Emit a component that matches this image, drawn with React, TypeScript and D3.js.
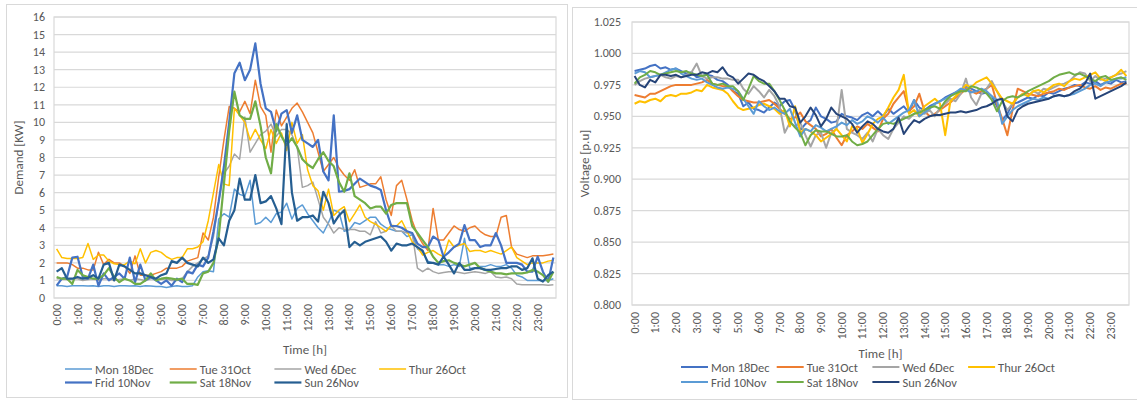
import React from 'react';
import * as d3 from 'd3';

// tick labels, one per hour (data are 15 min steps, 96 per day)
const hourLabels = [
  '0:00', '1:00', '2:00', '3:00', '4:00', '5:00', '6:00', '7:00', '8:00', '9:00', '10:00', '11:00',
  '12:00', '13:00', '14:00', '15:00', '16:00', '17:00', '18:00', '19:00', '20:00', '21:00', '22:00', '23:00',
];
const dayNames = ['Mon 18Dec', 'Tue 31Oct', 'Wed 6Dec', 'Thur 26Oct', 'Frid 10Nov', 'Sat 18Nov', 'Sun 26Nov'];

// demand [kW]
const monDemand = [0.7,0.7,0.65,0.7, 0.7,0.7,0.68,0.7, 0.65,0.7,0.7,0.65, 0.7,0.7,0.68,0.7, 0.65,0.7,0.68,0.65, 0.65,0.6,0.65,0.7, 0.65,0.65,0.7,1.2, 1.5,1.55,1.5,4.5, 4.8,4.6,6.2,5.9, 5.8,6.7,4.2,4.3, 4.6,4.3,4.8,4.9, 5.4,4.5,5.1,5.3, 4.8,4.4,4.0,3.7, 4.3,5.0,4.9,3.8, 3.9,4.3,4.2,4.4, 4.6,4.6,4.2,4.0, 3.9,3.8,3.8,3.5, 3.6,2.8,2.6,2.1, 2.0,1.9,1.9,1.8, 1.9,1.8,3.4,1.7, 1.7,1.8,1.8,1.9, 1.8,1.8,1.9,1.7, 1.3,1.2,1.0,1.0, 1.0,1.0,1.0,1.1];
const tueDemand = [2.0,2.0,2.0,1.9, 1.7,1.7,1.6,1.6, 2.6,1.9,2.2,2.0, 2.0,1.8,1.4,2.4, 1.3,1.3,1.3,1.4, 1.5,1.7,1.7,1.7, 1.8,2.1,2.2,2.3, 3.7,3.3,4.6,6.9, 9.0,10.9,10.8,10.6, 11.2,10.5,12.4,10.9, 10.4,8.3,10.7,9.8, 10.3,10.8,11.1,10.6, 10.0,9.4,8.3,7.2, 7.6,8.0,7.4,7.0, 6.7,7.3,6.3,6.4, 6.5,6.5,6.9,5.6, 4.7,6.4,6.7,5.6, 4.4,3.6,3.1,2.7, 5.1,3.3,3.3,3.7, 4.1,3.9,3.8,4.0, 4.1,3.8,3.6,3.5, 3.5,4.6,4.7,2.9, 2.5,2.4,2.3,2.4, 2.4,2.4,2.45,2.5];
const wedDemand = [1.1,1.1,1.05,1.1, 1.1,1.0,1.05,1.1, 1.0,1.1,1.1,1.0, 1.05,1.1,1.0,1.1, 1.05,1.0,1.1,1.1, 1.05,1.1,1.0,1.0, 1.1,1.5,1.8,2.0, 2.2,2.4,3.5,5.5, 7.1,7.5,8.2,7.9, 10.3,8.3,8.8,9.3, 9.5,9.9,9.2,9.6, 9.6,9.3,8.6,6.3, 6.4,6.6,5.6,4.6, 4.2,3.7,4.0,3.9, 3.9,3.9,3.8,3.8, 3.6,4.35,3.7,3.8, 4.1,3.8,3.8,3.7, 3.7,1.7,1.5,1.7, 1.5,1.4,1.45,1.5, 1.5,1.45,1.4,1.45, 1.5,1.45,1.4,1.5, 1.2,1.15,1.2,1.1, 0.8,0.75,0.75,0.75, 0.75,0.75,0.72,0.75];
const thuDemand = [2.8,2.3,2.25,2.25, 2.25,2.3,3.1,2.2, 2.45,2.45,2.1,1.95, 1.9,1.9,2.1,1.95, 2.8,2.0,2.6,2.7, 2.6,2.35,2.2,2.3, 2.3,2.8,2.8,2.9, 3.2,4.4,6.0,7.6, 6.5,6.4,10.8,10.4, 10.0,9.0,9.6,9.0, 8.5,9.6,8.8,9.4, 8.4,10.0,8.8,9.3, 7.3,6.4,6.1,5.0, 6.2,4.7,5.0,5.2, 4.35,4.8,5.3,4.6, 4.35,4.2,4.0,3.8, 4.15,4.1,4.4,3.8, 3.2,2.9,2.45,2.6, 2.7,2.5,2.35,3.3, 2.9,3.0,3.1,2.65, 2.7,2.7,2.6,2.7, 2.6,2.5,2.7,2.9, 2.3,2.1,1.9,2.0, 2.0,2.0,2.1,2.15];
const friDemand = [0.7,1.1,1.2,2.3, 2.35,1.2,1.1,1.9, 0.7,1.4,1.0,1.2, 1.4,1.1,2.3,0.9, 1.9,1.0,1.2,1.0, 0.8,1.0,0.7,1.1, 0.9,1.5,1.4,1.9, 1.8,2.3,3.8,5.5, 7.5,10.0,12.8,13.4, 12.4,13.0,14.5,12.2, 10.8,10.6,9.5,10.5, 10.7,9.4,10.4,9.0, 8.8,8.6,9.0,7.2, 6.7,10.4,6.05,6.1, 6.2,6.5,6.8,6.6, 6.4,6.3,6.15,5.0, 4.1,4.1,4.0,3.8, 3.7,3.1,2.9,2.9, 3.5,3.3,2.35,2.6, 2.9,3.1,4.15,3.3, 3.3,2.9,3.0,3.0, 3.7,3.0,2.0,2.0, 2.0,1.9,1.5,1.5, 2.35,1.5,0.93,2.3];
const satDemand = [1.2,1.1,1.1,0.8, 1.6,1.3,1.2,1.1, 1.1,1.3,1.7,1.2, 0.9,1.1,1.0,0.8, 0.8,1.0,1.4,1.0, 1.1,1.15,1.1,1.05, 1.1,0.8,0.8,0.75, 1.4,1.5,2.0,3.5, 6.5,9.5,11.75,10.4, 10.2,10.2,11.2,9.8, 8.0,7.1,9.9,9.2, 8.7,9.1,8.6,7.9, 7.6,7.4,7.9,8.3, 7.8,7.5,6.6,6.05, 7.1,5.8,5.6,5.4, 5.1,5.2,5.2,4.8, 5.3,5.4,5.4,5.4, 4.1,3.7,3.3,2.9, 2.35,2.0,2.1,2.15, 2.0,1.9,1.8,1.9, 2.0,1.7,1.6,1.5, 1.4,1.4,1.35,1.4, 1.4,1.4,1.45,1.6, 1.5,1.3,0.93,1.5];
const sunDemand = [1.5,1.7,1.1,1.1, 1.2,1.1,1.15,1.3, 1.1,1.9,2.0,1.0, 1.9,1.8,1.6,1.4, 1.4,1.3,1.2,1.1, 1.3,1.4,2.1,2.0, 2.3,2.0,1.9,1.8, 2.3,2.0,2.2,3.4, 3.0,4.4,5.0,6.8, 5.6,5.6,7.0,5.4, 5.5,5.8,5.1,4.2, 9.9,6.0,4.4,4.6, 4.6,4.7,4.35,6.05, 5.4,4.25,4.7,5.0, 2.9,3.2,3.0,3.2, 3.3,3.4,3.5,3.2, 2.7,3.1,3.0,3.0, 3.1,2.9,2.7,2.0, 2.0,1.9,2.35,1.9, 1.4,2.0,1.6,1.6, 1.7,1.7,1.6,1.6, 1.65,1.7,1.7,1.8, 1.8,1.6,1.7,2.26, 1.1,0.93,1.3,1.5];

// voltage [p.u]
const monVoltage = [.986,.987,.988,.990, .991,.988,.989,.987, .988,.986,.984,.985, .981,.982,.983,.982, .979,.978,.975,.970, .968,.958,.961,.956, .955,.953,.957,.961, .958,.962,.963,.955, .939,.944,.947,.957, .950,.948,.945,.946, .952,.950,.949,.947, .951,.953,.950,.954, .950,.956,.952,.955, .958,.953,.963,.957, .955,.958,.960,.962, .965,.967,.969,.971, .974,.972,.970,.968, .969,.966,.958,.947, .952,.960,.961,.963, .965,.964,.967,.966, .969,.968,.970,.972, .973,.975,.974,.977, .976,.978,.975,.977, .976,.979,.977,.978];
const tueVoltage = [.967,.966,.965,.968, .968,.970,.972,.974, .975,.975,.975,.975, .976,.977,.979,.976, .975,.974,.974,.970, .966,.963,.962,.961, .961,.962,.963,.960, .956,.952,.948,.949, .953,.946,.943,.940, .934,.936,.940,.933, .927,.935,.938,.942, .940,.944,.941,.938, .948,.952,.960,.965, .970,.954,.958,.968, .954,.950,.952,.955, .958,.961,.965,.968, .972,.970,.968,.970, .972,.975,.960,.948, .935,.955,.972,.970, .968,.967,.966,.968, .969,.970,.972,.971, .973,.974,.975,.973, .972,.974,.971,.973, .972,.974,.976,.976];
const wedVoltage = [.975,.978,.980,.981, .982,.983,.981,.980, .982,.981,.983,.985, .992,.982,.980,.981, .981,.980,.980,.979, .979,.972,.968,.974, .970,.965,.971,.966, .958,.937,.945,.942, .945,.935,.926,.935, .937,.925,.937,.940, .971,.940,.937,.935, .932,.937,.930,.940, .935,.932,.940,.945, .950,.948,.952,.955, .952,.955,.950,.957, .960,.964,.962,.968, .980,.965,.959,.968, .972,.978,.970,.962, .955,.960,.965,.968, .966,.970,.968,.972, .971,.973,.975,.976, .978,.982,.985,.984, .978,.982,.979,.980, .981,.983,.984,.986];
const thuVoltage = [.960,.962,.961,.963, .964,.962,.966,.967, .966,.968,.968,.969, .971,.970,.975,.973, .972,.971,.968,.962, .957,.955,.956,.957, .959,.960,.958,.956, .952,.955,.942,.958, .937,.940,.938,.935, .930,.933,.936,.940, .935,.930,.942,.940, .929,.936,.944,.948, .950,.957,.965,.971, .983,.952,.955,.950, .958,.961,.964,.960, .935,.962,.966,.970, .975,.973,.977,.979, .981,.976,.970,.964, .962,.960,.965,.968, .966,.970,.971,.969, .972,.975,.976,.974, .978,.980,.979,.981, .983,.985,.980,.978, .981,.983,.987,.982];
const friVoltage = [.984,.986,.985,.981, .982,.983,.985,.987, .988,.984,.982,.980, .979,.980,.977,.975, .973,.972,.973,.972, .970,.964,.958,.952, .962,.958,.955,.957, .954,.952,.956,.945, .934,.940,.938,.943, .941,.938,.940,.942, .945,.943,.947,.944, .946,.950,.948,.945, .949,.944,.947,.950, .953,.955,.963,.950, .953,.956,.960,.962, .964,.966,.969,.972, .971,.969,.970,.972, .970,.966,.963,.944, .950,.955,.958,.960, .962,.964,.963,.965, .964,.966,.967,.966, .967,.968,.970,.972, .975,.976,.974,.977, .978,.980,.980,.981];
const satVoltage = [.976,.981,.983,.986, .985,.983,.984,.985, .986,.985,.986,.984, .983,.982,.983,.976, .975,.976,.974,.974, .970,.963,.972,.982, .978,.976,.976,.970, .963,.955,.946,.941, .937,.927,.935,.939, .938,.938,.936,.934, .934,.935,.930,.927, .928,.930,.935,.940, .944,.945,.944,.946, .948,.950,.952,.953, .955,.957,.958,.956, .962,.966,.968,.970, .970,.974,.973,.971, .968,.963,.954,.962, .965,.966,.965,.967, .970,.972,.974,.976, .978,.981,.983,.984, .985,.983,.984,.982, .980,.978,.981,.982, .979,.980,.981,.979];
const sunVoltage = [.982,.975,.973,.979, .977,.983,.983,.982, .983,.981,.982,.983, .983,.985,.984,.986, .985,.989,.983,.981, .976,.980,.984,.983, .980,.978,.974,.970, .964,.964,.958,.957, .945,.950,.957,.951, .942,.948,.957,.952, .950,.948,.944,.937, .942,.946,.944,.940, .938,.937,.940,.949, .936,.942,.947,.945, .948,.950,.951,.951, .952,.953,.953,.954, .953,.954,.955,.957, .958,.960,.963,.964, .950,.946,.955,.958, .960,.961,.962,.963, .964,.966,.967,.966, .967,.970,.972,.976, .984,.964,.966,.968, .970,.972,.974,.977];

const demandTicks = [0, 1, 2, 3, 4, 5, 6, 7, 8, 9, 10, 11, 12, 13, 14, 15, 16];
const voltageTicks = [0.8, 0.825, 0.85, 0.875, 0.9, 0.925, 0.95, 0.975, 1.0, 1.025];

const demandColors = ['#5B9BD5', '#ED7D31', '#A5A5A5', '#FFC000', '#4472C4', '#70AD47', '#255E91'];
const voltageColors = ['#4472C4', '#ED7D31', '#A5A5A5', '#FFC000', '#5B9BD5', '#70AD47', '#264478'];

const FONT = 'Carlito, Lato, sans-serif';
const TEXT = '#595959';
const GRID = '#d9d9d9';

type Box = { x0: number; x1: number; y0: number; y1: number };

type ChartProps = {
  outer: Box;
  plot: Box;
  series: number[][];
  colors: string[];
  widths: number[];
  yDomain: [number, number];
  yTicks: number[];
  yFormat: (v: number) => string;
  yTitle: string;
  yTitleX: number;
  yLabelX: number;
  xLabelTop: number;
  xTitleY: number;
  legendX: number;
  legendStep: number;
  legendRows: [number, number];
};

function LineChart(p: ChartProps) {
  const n = p.series[0].length;
  const x = d3.scalePoint<number>().domain(d3.range(n)).range([p.plot.x0, p.plot.x1]).padding(0.5);
  const y = d3.scaleLinear().domain(p.yDomain).range([p.plot.y1, p.plot.y0]);
  const line = d3
    .line<number>()
    .x((_, i) => x(i) as number)
    .y((d) => y(d));
  const midX = (p.plot.x0 + p.plot.x1) / 2;
  const midY = (p.plot.y0 + p.plot.y1) / 2;

  return (
    <g fontFamily={FONT}>
      <rect
        x={p.outer.x0}
        y={p.outer.y0}
        width={p.outer.x1 - p.outer.x0}
        height={p.outer.y1 - p.outer.y0}
        fill="#fff"
        stroke={GRID}
      />
      {p.yTicks.map((t) => (
        <g key={t}>
          <line x1={p.plot.x0} x2={p.plot.x1} y1={y(t)} y2={y(t)} stroke={GRID} strokeWidth={1.2} />
          <text x={p.yLabelX} y={y(t)} textAnchor="end" dominantBaseline="central" fontSize={12} fill={TEXT}>
            {p.yFormat(t)}
          </text>
        </g>
      ))}
      <rect
        x={p.plot.x0}
        y={p.plot.y0}
        width={p.plot.x1 - p.plot.x0}
        height={p.plot.y1 - p.plot.y0}
        fill="none"
        stroke={GRID}
        strokeWidth={1.2}
      />
      {hourLabels.map((h, i) => (
        <text
          key={h}
          transform={`translate(${x(i * 4)},${p.xLabelTop}) rotate(-90)`}
          textAnchor="end"
          dominantBaseline="central"
          fontSize={12}
          fill={TEXT}
        >
          {h}
        </text>
      ))}
      {p.series.map((s, k) => (
        <path
          key={k}
          d={line(s) ?? ''}
          fill="none"
          stroke={p.colors[k]}
          strokeWidth={p.widths[k]}
          strokeLinejoin="round"
        />
      ))}
      <text
        transform={`translate(${p.yTitleX},${midY}) rotate(-90)`}
        textAnchor="middle"
        dominantBaseline="central"
        fontSize={13}
        fill={TEXT}
      >
        {p.yTitle}
      </text>
      <text x={midX} y={p.xTitleY} textAnchor="middle" dominantBaseline="central" fontSize={13} fill={TEXT}>
        Time [h]
      </text>
      {dayNames.map((name, k) => {
        const col = k % 4;
        const row = Math.floor(k / 4);
        const lx = p.legendX + col * p.legendStep;
        const ly = p.legendRows[row];
        return (
          <g key={name}>
            <line x1={lx} x2={lx + 27} y1={ly} y2={ly} stroke={p.colors[k]} strokeWidth={p.widths[k]} />
            <text x={lx + 30} y={ly} dominantBaseline="central" fontSize={12.5} fill={TEXT}>
              {name}
            </text>
          </g>
        );
      })}
    </g>
  );
}

export default function App() {
  return (
    <svg
      width={1137}
      height={403}
      style={{ position: 'absolute', left: 0, top: 0, background: '#fff' }}
    >
      <LineChart
        outer={{ x0: 6.5, x1: 567.5, y0: 4.5, y1: 397.5 }}
        plot={{ x0: 54, x1: 556, y0: 17, y1: 298 }}
        series={[monDemand, tueDemand, wedDemand, thuDemand, friDemand, satDemand, sunDemand]}
        colors={demandColors}
        widths={[1.5, 1.5, 1.5, 1.5, 2.2, 2.2, 2.2]}
        yDomain={[0, 16]}
        yTicks={demandTicks}
        yFormat={(v) => String(v)}
        yTitle="Demand [KW]"
        yTitleX={18}
        yLabelX={45}
        xLabelTop={304}
        xTitleY={349}
        legendX={65}
        legendStep={104.7}
        legendRows={[369, 382.5]}
      />
      <LineChart
        outer={{ x0: 572.5, x1: 1145, y0: 7.5, y1: 399.5 }}
        plot={{ x0: 632, x1: 1129, y0: 22, y1: 305 }}
        series={[monVoltage, tueVoltage, wedVoltage, thuVoltage, friVoltage, satVoltage, sunVoltage]}
        colors={voltageColors}
        widths={[2, 2, 2, 2, 2, 2, 2]}
        yDomain={[0.8, 1.025]}
        yTicks={voltageTicks}
        yFormat={d3.format('.3f')}
        yTitle="Voltage [p.u]"
        yTitleX={584}
        yLabelX={621}
        xLabelTop={312}
        xTitleY={353}
        legendX={681}
        legendStep={95.7}
        legendRows={[367, 382]}
      />
    </svg>
  );
}
